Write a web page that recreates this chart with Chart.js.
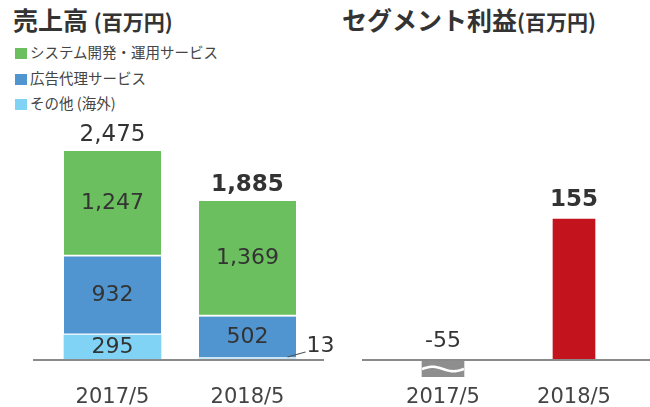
<!DOCTYPE html>
<html><head><meta charset="utf-8">
<script src="https://cdn.jsdelivr.net/npm/chart.js@4"></script>
<style>
html,body{margin:0;padding:0;background:#fff;width:650px;height:407px;overflow:hidden;}
.t{position:absolute;font-family:"Noto Sans CJK JP",sans-serif;color:#333;white-space:nowrap;font-weight:700;}
.t small{font-size:21px;font-weight:700;}
.lg{position:absolute;left:15px;font-family:"Noto Sans CJK JP",sans-serif;font-size:14.5px;color:#444;white-space:nowrap;line-height:18px;}
.lg i{display:inline-block;width:12px;height:11px;margin-right:3px;vertical-align:-1px;}
canvas{position:absolute;top:0;}
</style></head><body>
<div class="t" style="left:13px;top:3px;font-size:25px;line-height:32px;">売上高 <small>(百万円)</small></div>
<div class="t" style="left:342px;top:3px;font-size:25px;line-height:32px;">セグメント利益<small>(百万円)</small></div>
<div id="legend"></div>
<canvas id="c1" width="335" height="420" style="left:0"></canvas>
<canvas id="c2" width="315" height="420" style="left:335px"></canvas>
<script>
const categories = ['2017/5', '2018/5'];
const seriesNames = ['その他 (海外)', '広告代理サービス', 'システム開発・運用サービス'];
const salesOverseas = [295, 13];
const salesAgency = [932, 502];
const salesSystem = [1247, 1369];
const salesTotal = [2475, 1885];
const segmentProfit = [-55, 155];

const colOverseas = '#80d3f5';
const colAgency = '#5094d0';
const colSystem = '#6cbf5f';
const colProfit = '#c3131c';
const colLoss = '#8e8e8e';
const numFont = '"DejaVu Sans", sans-serif';

// legend (HTML, top-down order as in the reference)
const legendItems = [
  [seriesNames[2], colSystem],
  [seriesNames[1], colAgency],
  [seriesNames[0], colOverseas]
];
const lg = document.getElementById('legend');
legendItems.forEach((it, i) => {
  const d = document.createElement('div');
  d.className = 'lg';
  d.style.top = (43 + i * 25.5) + 'px';
  d.innerHTML = '<i style="background:' + it[1] + '"></i>' + it[0];
  lg.appendChild(d);
});

const fmt = v => v.toLocaleString('en-US');

const axisLine = (extL, extR) => ({
  id: 'axisLine',
  afterDatasetsDraw(chart) {
    const ctx = chart.ctx, a = chart.chartArea;
    const y = Math.round(chart.scales.y.getPixelForValue(0)) ;
    ctx.save();
    ctx.strokeStyle = '#8a8a8a';
    ctx.lineWidth = 2;
    ctx.beginPath();
    ctx.moveTo(a.left - extL, y);
    ctx.lineTo(a.right + extR, y);
    ctx.stroke();
    ctx.restore();
  }
});

const salesLabels = {
  id: 'salesLabels',
  afterDraw(chart) {
    const ctx = chart.ctx;
    const y0 = chart.scales.y.getPixelForValue(0);
    ctx.save();
    ctx.textAlign = 'center';
    ctx.textBaseline = 'middle';
    ctx.fillStyle = '#333';
    ctx.font = '22px ' + numFont;
    chart.data.datasets.forEach((ds, di) => {
      const meta = chart.getDatasetMeta(di);
      meta.data.forEach((el, j) => {
        const v = ds.data[j];
        const h = Math.abs(el.base - el.y);
        if (h > 20) {
          ctx.fillText(fmt(v), el.x, (el.y + el.base) / 2);
        } else {
          // small slice: leader line + label at the right
          ctx.strokeStyle = '#555';
          ctx.lineWidth = 1.2;
          ctx.beginPath();
          ctx.moveTo(el.x + 40, y0 - 3);
          ctx.lineTo(el.x + 58, y0 - 8);
          ctx.stroke();
          ctx.textAlign = 'left';
          ctx.fillText(fmt(v), el.x + 59, y0 - 14);
          ctx.textAlign = 'center';
        }
      });
    });
    const top = chart.getDatasetMeta(chart.data.datasets.length - 1);
    top.data.forEach((el, j) => {
      ctx.font = (j === top.data.length - 1 ? 'bold ' : '') + '23px ' + numFont;
      ctx.fillText(fmt(salesTotal[j]), el.x, el.y - 16);
    });
    ctx.restore();
  }
};

const profitLabels = {
  id: 'profitLabels',
  afterDraw(chart) {
    const ctx = chart.ctx;
    const y0 = chart.scales.y.getPixelForValue(0);
    const meta = chart.getDatasetMeta(0);
    const a = chart.chartArea;
    ctx.save();
    meta.data.forEach((el, j) => {
      const v = segmentProfit[j];
      ctx.textAlign = 'center';
      ctx.textBaseline = 'middle';
      ctx.fillStyle = '#333';
      if (v < 0) {
        ctx.font = '22px ' + numFont;
        ctx.fillText(fmt(v), el.x, y0 - 19);
        // break mark (wave) on the truncated negative bar
        const w = el.width, x1 = el.x - w / 2;
        const yc = (y0 + a.bottom) / 2 + 0.5;
        ctx.strokeStyle = '#fff';
        ctx.lineWidth = 2.6;
        ctx.beginPath();
        for (let k = 0; k <= 40; k++) {
          const x = x1 + (w * k) / 40;
          const y = yc - 2.2 * Math.sin((k / 40) * Math.PI * 2);
          if (k === 0) ctx.moveTo(x, y); else ctx.lineTo(x, y);
        }
        ctx.stroke();
      } else {
        ctx.font = 'bold 23px ' + numFont;
        ctx.fillText(fmt(v), el.x, el.y - 19);
      }
    });
    ctx.restore();
  }
};

const xScale = {
  stacked: true,
  grid: { display: false, drawTicks: false },
  border: { display: false },
  ticks: { color: '#444', font: { family: numFont, size: 21 }, padding: 7.8 }
};

new Chart(document.getElementById('c1'), {
  type: 'bar',
  data: {
    labels: categories,
    datasets: [
      { label: seriesNames[0], data: salesOverseas, backgroundColor: colOverseas, borderWidth: 0 },
      { label: seriesNames[1], data: salesAgency, backgroundColor: colAgency, borderColor: '#fff', borderSkipped: false, borderWidth: { bottom: 2 } },
      { label: seriesNames[2], data: salesSystem, backgroundColor: colSystem, borderColor: '#fff', borderSkipped: false, borderWidth: { bottom: 2 } }
    ]
  },
  options: {
    responsive: false, animation: false, devicePixelRatio: 1,
    layout: { padding: { top: 120, left: 45, right: 20, bottom: 2.2 } },
    datasets: { bar: { barThickness: 97 } },
    plugins: { legend: { display: false }, tooltip: { enabled: false } },
    scales: {
      x: xScale,
      y: { stacked: true, display: false, min: -201, max: 2842 }
    }
  },
  plugins: [axisLine(12, 9), salesLabels]
});

new Chart(document.getElementById('c2'), {
  type: 'bar',
  data: {
    labels: categories,
    datasets: [
      { label: 'セグメント利益', data: segmentProfit,
        backgroundColor: segmentProfit.map(v => v < 0 ? colLoss : colProfit), borderWidth: 0 }
    ]
  },
  options: {
    responsive: false, animation: false, devicePixelRatio: 1,
    layout: { padding: { top: 120, left: 42.5, right: 10.5, bottom: 2.2 } },
    datasets: { bar: { barThickness: 42 } },
    plugins: { legend: { display: false }, tooltip: { enabled: false } },
    scales: {
      x: Object.assign({}, xScale, { stacked: false }),
      y: { display: false, min: -18.7, max: 263.8 }
    }
  },
  plugins: [axisLine(15.5, 12), profitLabels]
});
</script>
</body></html>
